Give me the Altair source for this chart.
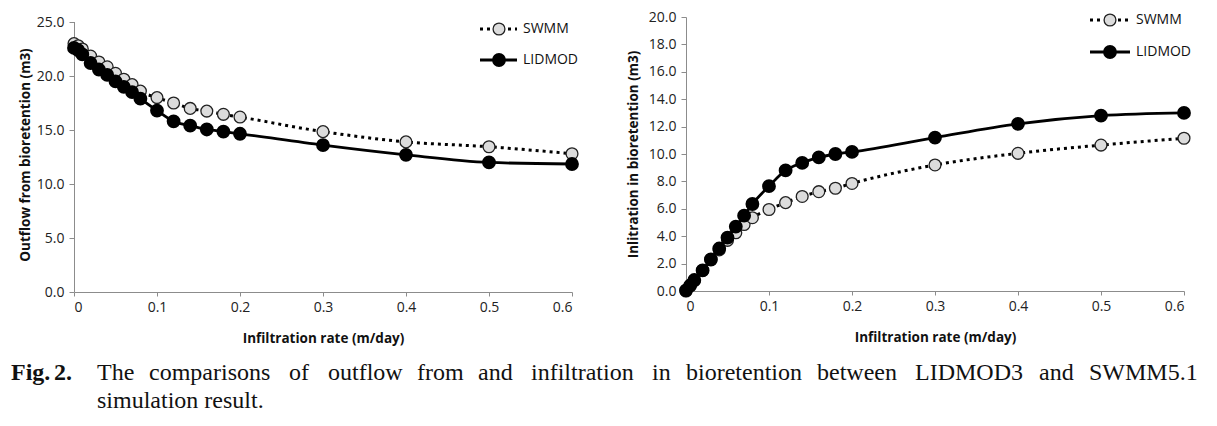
import altair as alt
import pandas as pd

# ---- data ----
rate = [0, 0.005, 0.01, 0.02, 0.03, 0.04, 0.05, 0.06, 0.07, 0.08,
        0.1, 0.12, 0.14, 0.16, 0.18, 0.2, 0.3, 0.4, 0.5, 0.6]
outflow_swmm = [23.0, 22.8, 22.5, 21.85, 21.3, 20.85, 20.25, 19.7, 19.2, 18.6,
                18.0, 17.5, 17.0, 16.75, 16.45, 16.2, 14.85, 13.9, 13.45, 12.8]
outflow_lidmod = [22.6, 22.4, 22.0, 21.2, 20.6, 20.1, 19.5, 19.0, 18.5, 17.9,
                  16.8, 15.8, 15.4, 15.05, 14.85, 14.65, 13.6, 12.7, 12.0, 11.85]
infil_swmm = [0.0, 0.4, 0.75, 1.5, 2.3, 3.0, 3.7, 4.25, 4.85, 5.35,
              5.95, 6.45, 6.9, 7.25, 7.5, 7.85, 9.2, 10.05, 10.65, 11.15]
infil_lidmod = [0.05, 0.4, 0.8, 1.5, 2.3, 3.1, 3.9, 4.7, 5.5, 6.35,
                7.65, 8.8, 9.35, 9.75, 10.0, 10.15, 11.2, 12.2, 12.8, 13.0]
x_ticks = [0, 0.1, 0.2, 0.3, 0.4, 0.5, 0.6]
left_y_ticks = [0, 5, 10, 15, 20, 25]
right_y_ticks = [0, 2, 4, 6, 8, 10, 12, 14, 16, 18, 20]
series_names = ["SWMM", "LIDMOD"]

caption_bold = ["Fig.", "2."]
caption_words = ["The", "comparisons", "of", "outflow", "from", "and", "infiltration",
                 "in", "bioretention", "between", "LIDMOD3", "and", "SWMM5.1"]
caption_line2 = "simulation result."

SANS = "Open Sans"
SERIF = "Liberation Serif"
GRAY_FILL = "#dcdcdc"
AXIS_COL = "#8c8c8c"
MSIZE = 140
PLOT_W = 498


def caption_layers():
    """Figure caption (justified first line), positioned relative to the left plot's origin."""
    one = alt.Data(values=[{"k": 1}])
    bold_x = [-63, -20]
    word_x = [23, 75, 215, 254, 343, 404, 457, 578, 612, 743, 841, 965, 1015]
    y1, y2 = 363, 391
    out = []
    for w, xx in zip(caption_bold, bold_x):
        out.append(alt.Chart(one).mark_text(
            text=w, align="left", baseline="alphabetic", font=SERIF, fontSize=24,
            fontWeight="bold", color="#111").encode(x=alt.value(xx), y=alt.value(y1)))
    for w, xx in zip(caption_words, word_x):
        out.append(alt.Chart(one).mark_text(
            text=w, align="left", baseline="alphabetic", font=SERIF, fontSize=24,
            color="#111").encode(x=alt.value(xx), y=alt.value(y1)))
    out.append(alt.Chart(one).mark_text(
        text=caption_line2, align="left", baseline="alphabetic", font=SERIF, fontSize=24,
        color="#111").encode(x=alt.value(23), y=alt.value(y2)))
    return out


def panel(swmm, lidmod, ytitle, ymax, yticks, h, plot_h, ext, leg_x, leg_y, extra=()):
    df = pd.DataFrame({"rate": rate, "SWMM": swmm, "LIDMOD": lidmod})
    base = alt.Chart(df)
    extra_top = h != plot_h  # panel taller than its value range -> draw own axis line
    xaxis = alt.Axis(values=x_ticks, format=".1~f", title="Infiltration rate (m/day)",
                     labelFont=SANS, labelFontSize=14, labelColor="#222",
                     titleFont=SANS, titleFontSize=13.5, titleFontWeight="bold",
                     titleColor="#111", titlePadding=17,
                     domainColor=AXIS_COL, tickColor=AXIS_COL, tickSize=4,
                     labelPadding=4, grid=False, labelOverlap=False)
    yaxis = alt.Axis(values=yticks, format=".1f", title=ytitle,
                     labelFont=SANS, labelFontSize=14, labelColor="#222",
                     titleFont=SANS, titleFontSize=13.5, titleFontWeight="bold",
                     titleColor="#111", titlePadding=6,
                     domain=not extra_top,
                     domainColor=AXIS_COL, tickColor=AXIS_COL, tickSize=5,
                     labelPadding=5, grid=False, labelOverlap=False,
                     minExtent=ext, maxExtent=ext)
    xscale = alt.Scale(domain=[0, 0.6], nice=False)
    yscale = alt.Scale(domain=[0, ymax * h / plot_h], nice=False)

    def enc(field):
        return dict(x=alt.X("rate:Q", scale=xscale, axis=xaxis),
                    y=alt.Y(f"{field}:Q", scale=yscale, axis=yaxis))

    sw_line = base.mark_line(interpolate="monotone", color="black", strokeWidth=3,
                             strokeDash=[3, 4]).encode(**enc("SWMM"))
    sw_pts = base.mark_point(shape="circle", filled=True, size=MSIZE, fill=GRAY_FILL,
                             stroke="#222", strokeWidth=1.3, opacity=1).encode(**enc("SWMM"))
    li_line = base.mark_line(interpolate="monotone", color="black",
                             strokeWidth=2.8).encode(**enc("LIDMOD"))
    li_pts = base.mark_point(shape="circle", filled=True, size=MSIZE, fill="black",
                             stroke="black", opacity=1).encode(**enc("LIDMOD"))

    one = alt.Data(values=[{"k": 1}])
    x0, x1, xc, xt = leg_x
    y1, y2 = leg_y
    layers = []
    if extra_top:
        layers.append(alt.Chart(one).mark_rule(color=AXIS_COL, strokeWidth=1).encode(
            x=alt.value(0.5), y=alt.datum(0), y2=alt.datum(ymax)))
    layers += [sw_line, sw_pts, li_line, li_pts]
    layers += [
        alt.Chart(one).mark_rule(color="black", strokeWidth=3, strokeDash=[3, 4]).encode(
            x=alt.value(x0), x2=alt.value(x1), y=alt.value(y1)),
        alt.Chart(one).mark_point(shape="circle", filled=True, size=MSIZE, fill=GRAY_FILL,
                                  stroke="#222", strokeWidth=1.3, opacity=1).encode(
            x=alt.value(xc), y=alt.value(y1)),
        alt.Chart(one).mark_text(text=series_names[0], align="left", baseline="middle",
                                 font=SANS, fontSize=14, color="#111").encode(
            x=alt.value(xt), y=alt.value(y1)),
        alt.Chart(one).mark_rule(color="black", strokeWidth=2.8).encode(
            x=alt.value(x0), x2=alt.value(x1), y=alt.value(y2)),
        alt.Chart(one).mark_point(shape="circle", filled=True, size=MSIZE, fill="black",
                                  stroke="black", opacity=1).encode(
            x=alt.value(xc), y=alt.value(y2)),
        alt.Chart(one).mark_text(text=series_names[1], align="left", baseline="middle",
                                 font=SANS, fontSize=14, color="#111").encode(
            x=alt.value(xt), y=alt.value(y2)),
    ]
    layers += list(extra)
    return alt.layer(*layers).properties(width=PLOT_W, height=h)


# left plot: values 0..25 span 270px, panel is 275px tall (top 5px empty, like the reference)
left = panel(outflow_swmm, outflow_lidmod, "Outflow from bioretention (m3)", 25,
             left_y_ticks, 275, 270, 36, (406, 443, 425, 449), (12, 43),
             extra=caption_layers())
right = panel(infil_swmm, infil_lidmod, "Inlitration in bioretention (m3)", 20,
              right_y_ticks, 274, 274, 40, (404, 444, 424, 450), (3, 35))

chart = alt.hconcat(left, right, spacing=114, bounds="flush").properties(
    padding={"left": 3, "top": 2, "right": 5, "bottom": 0}
).configure_view(stroke=None)

chart.save("out.html", embed_options={"renderer": "svg", "actions": False})
